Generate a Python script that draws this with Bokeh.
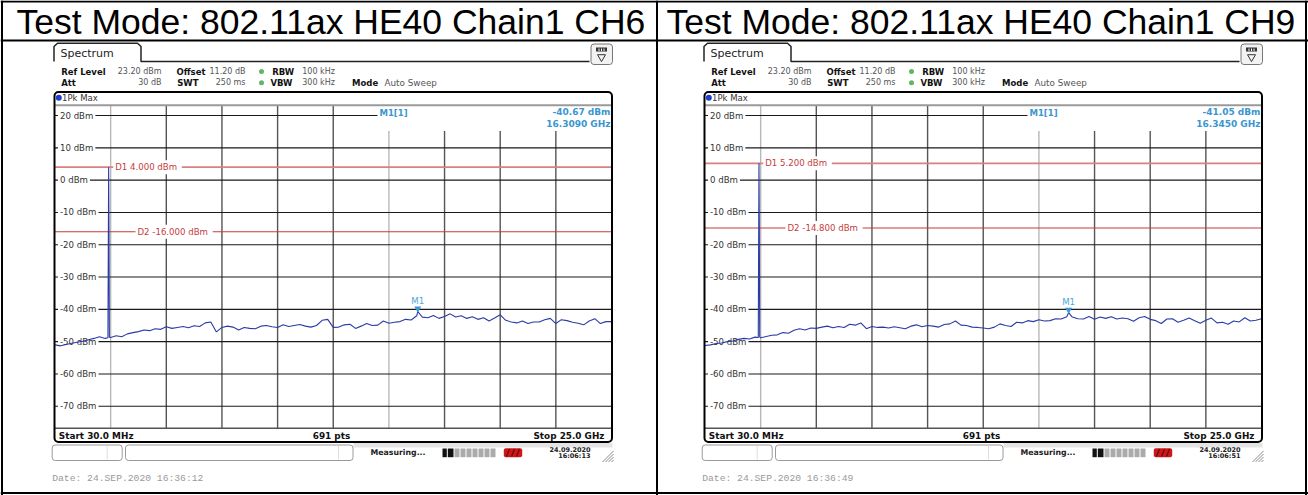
import numpy as np
from bokeh.plotting import figure
from bokeh.models import Range1d
from bokeh.core.properties import value
from bokeh.embed import file_html
from bokeh.resources import INLINE

# ------------------------------------------------------------------ data
titles = ["Test Mode: 802.11ax HE40 Chain1 CH6", "Test Mode: 802.11ax HE40 Chain1 CH9"]
start_ghz = 0.03
stop_ghz = 25.0
ref_level_dbm = 23.20
span_db = 100.0
level_ticks = [20, 10, 0, -10, -20, -30, -40, -50, -60, -70]
level_tick_labels = ["20 dBm", "10 dBm", "0 dBm", "-10 dBm", "-20 dBm", "-30 dBm",
                     "-40 dBm", "-50 dBm", "-60 dBm", "-70 dBm"]
freq_divisions = 10
row1_names = ["Ref Level", "Offset", "RBW"]
row1_values = ["23.20 dBm", "11.20 dB", "100 kHz"]
row2_names = ["Att", "SWT", "VBW", "Mode"]
row2_values = ["30 dB", "250 ms", "300 kHz", "Auto Sweep"]
tab_name = "Spectrum"
trace_name = "1Pk Max"
footer_labels = ["Start 30.0 MHz", "691 pts", "Stop 25.0 GHz"]
d1_dbm = [4.0, 5.2]
d1_labels = ["D1  4.000 dBm", "D1  5.200 dBm"]
d2_dbm = [-16.0, -14.8]
d2_labels = ["D2  -16.000 dBm", "D2  -14.800 dBm"]
m1_ghz = [16.3090, 16.3450]
m1_dbm = [-40.67, -41.05]
m1_level_text = ["-40.67 dBm", "-41.05 dBm"]
m1_freq_text = ["16.3090 GHz", "16.3450 GHz"]
carrier_ch6_ghz = [2.405, 2.437, 2.452, 2.470]
carrier_ch6_dbm = [-48.8, 4.0, -14.0, -48.6]
carrier_ch9_ghz = [2.420, 2.452, 2.467, 2.485]
carrier_ch9_dbm = [-48.7, 5.2, -13.0, -48.6]
noise_ch6 = [
    -51.0, -51.3, -50.9, -50.5, -50.2, -49.9, -49.4, -49.0, -48.5, -49.0,
    -48.7, -48.2, -48.5, -47.6, -47.2, -46.9, -46.4, -46.6, -46.0, -46.2,
    -45.4, -45.9, -45.6, -45.3, -45.7, -45.1, -45.3, -44.2, -43.9, -47.0,
    -45.6, -45.2, -45.5, -46.4, -45.6, -45.9, -46.0, -45.2, -45.0, -45.4,
    -45.6, -44.8, -45.3, -45.0, -44.7, -45.2, -45.5, -45.0, -43.4, -43.1,
    -45.6, -45.5, -44.8, -44.6, -45.9, -45.2, -44.4, -45.0, -44.9, -43.6,
    -44.3, -44.0, -43.8, -43.1, -43.3, -42.0, -42.4, -42.6, -41.9, -42.8,
    -42.2, -41.4, -42.4, -42.0, -42.8, -42.3, -43.1, -42.6, -43.6, -42.7,
    -41.7, -43.4, -43.9, -44.2, -43.6, -44.4, -43.9, -43.9, -43.2, -42.8,
    -44.4, -43.2, -43.5, -44.0, -44.3, -44.8, -43.6, -42.9, -44.4, -43.8,
    -43.8]
noise_ch9 = [
    -51.2, -51.0, -50.6, -50.4, -50.0, -49.8, -49.3, -49.0, -49.2, -48.6,
    -48.8, -48.4, -48.0, -47.9, -47.2, -47.4, -46.5, -46.0, -46.4, -45.8,
    -45.9, -45.5, -45.2, -45.7, -45.3, -45.6, -44.6, -44.9, -44.2, -46.0,
    -45.3, -45.6, -45.5, -45.8, -45.4, -45.7, -46.0, -45.2, -44.8, -45.4,
    -45.0, -45.2, -45.5, -44.7, -44.5, -43.6, -44.9, -45.0, -45.5, -45.6,
    -45.8, -46.0, -45.5, -44.5, -45.0, -45.3, -44.0, -44.2, -43.5, -43.8,
    -43.2, -43.6, -43.5, -42.9, -43.0, -42.3, -42.4, -42.9, -43.0, -42.2,
    -43.1, -42.4, -42.8, -42.3, -43.0, -42.7, -42.9, -43.7, -42.6, -42.2,
    -43.1, -43.5, -44.4, -43.0, -42.9, -44.0, -43.4, -42.7, -43.5, -44.3,
    -43.4, -42.7, -44.2, -44.0, -44.6, -43.6, -43.9, -42.6, -43.6, -43.4,
    -42.9]
status_text = "Measuring..."
status_date = "24.09.2020"
status_times = ["16:06:13", "16:06:51"]
print_stamps = ["Date: 24.SEP.2020  16:36:12", "Date: 24.SEP.2020  16:36:49"]

noise = [noise_ch6, noise_ch9]
carriers = [(carrier_ch6_ghz, carrier_ch6_dbm), (carrier_ch9_ghz, carrier_ch9_dbm)]

# ------------------------------------------------------------------ layout (px)
VX0, VX1, VY0, VY1 = 0, 1308, 0, 495
GX0, GX1 = 54.5, 611.0          # grid left/right of first panel
GY0, GY1 = 104.7, 427.7         # grid top/bottom
DX = 650.0                      # panel offset
UI = "DejaVu Sans"

p = figure(width=VX1 - VX0, height=VY1 - VY0,
           x_range=Range1d(VX0, VX1), y_range=Range1d(VY1, VY0),
           output_backend="svg", toolbar_location=None, min_border=0,
           x_axis_location=None, y_axis_location=None)
p.grid.visible = False
p.outline_line_color = None
p.background_fill_color = "white"
p.border_fill_color = "white"

ghz_per_px = (stop_ghz - start_ghz) / (GX1 - GX0)
db_per_px = span_db / (GY1 - GY0)
for k in range(2):
    ox = GX0 + k * DX
    p.extra_x_ranges[f"f{k}"] = Range1d(start_ghz + (VX0 - ox) * ghz_per_px,
                                        start_ghz + (VX1 - ox) * ghz_per_px)
p.extra_y_ranges["dbm"] = Range1d(ref_level_dbm - (VY1 - GY0) * db_per_px,
                                  ref_level_dbm - (VY0 - GY0) * db_per_px)


def txt(x, y, s, size, color="#222", bold=False, align="left", font=UI,
        xr="default", yr="default", bg=None, baseline="middle"):
    kw = {}
    if bg is not None:
        kw = dict(background_fill_color=bg, padding=2)
    p.text(x=[x], y=[y], text=[s], text_font=value(font),
           text_font_size=value(f"{size}px"),
           text_font_style="bold" if bold else "normal",
           text_color=color, text_align=align, text_baseline=baseline,
           x_range_name=xr, y_range_name=yr, **kw)


# ------------------------------------------------------------------ table
p.segment(x0=[0, 656.5, 1.5, 1305.5, 0, 0],
          y0=[40, 0, 0, 0, 1, 492.5],
          x1=[1308, 656.5, 1.5, 1305.5, 1308, 1308],
          y1=[40, 495, 495, 495, 1, 492.5],
          line_color="black", line_width=2)
for k in range(2):
    txt(16 + k * 650, 21, titles[k], 35.5, color="black", font="Liberation Sans")

# ------------------------------------------------------------------ panels
for k in range(2):
    o = k * DX
    fr = f"f{k}"

    # tab + header line + icon
    p.line([53.5 + o, 53.5 + o, 57 + o, 137 + o, 140.5 + o, 140.5 + o, 589 + o],
           [61, 46, 42.7, 42.7, 46, 61, 61], line_color="#222", line_width=1.5)
    txt(60 + o, 53.3, tab_name, 11, color="#222")
    p.quad(left=590.5 + o, right=612 + o, top=43.5, bottom=64, fill_color="#f2f2f2",
           line_color="#777", line_width=1, border_radius=3)
    p.quad(left=595.5 + o, right=606.5 + o, top=47, bottom=51, fill_color="#333",
           line_color=None)
    p.segment(x0=[598.5 + o, 601 + o, 603.5 + o], x1=[598.5 + o, 601 + o, 603.5 + o],
              y0=[48, 48, 48], y1=[50.5, 50.5, 50.5], line_color="white", line_width=1)
    p.scatter(x=[601 + o], y=[56.5], marker="inverted_triangle", size=8,
              fill_color=None, line_color="#333", line_width=1)

    # settings rows
    VS = 8.0
    txt(60.7 + o, 71, row1_names[0], 8.5, bold=True, color="#111")
    txt(161 + o, 71, row1_values[0], VS, color="#555", align="right")
    txt(176 + o, 71, row1_names[1], 8.5, bold=True, color="#111")
    txt(245 + o, 71, row1_values[1], VS, color="#555", align="right")
    txt(271.7 + o, 71, row1_names[2], 8.5, bold=True, color="#111")
    txt(301.7 + o, 71, row1_values[2], VS, color="#555")
    txt(60.7 + o, 82.3, row2_names[0], 8.5, bold=True, color="#111")
    txt(161 + o, 82.3, row2_values[0], VS, color="#555", align="right")
    txt(176.7 + o, 82.3, row2_names[1], 8.5, bold=True, color="#111")
    txt(245 + o, 82.3, row2_values[1], VS, color="#555", align="right")
    txt(270 + o, 82.3, row2_names[2], 8.5, bold=True, color="#111")
    txt(301.7 + o, 82.3, row2_values[2], VS, color="#555")
    txt(351.5 + o, 82.3, row2_names[3], 8.5, bold=True, color="#111")
    txt(384 + o, 82.3, row2_values[3], 8.8, color="#555")
    p.scatter(x=[261 + o, 261 + o], y=[71, 82.3], size=5, fill_color="#62b562",
              line_color=None)

    # vertical grid lines
    fstep = (stop_ghz - start_ghz) / freq_divisions
    vx = [start_ghz + j * fstep for j in range(1, freq_divisions)]
    vcol = ["#b8b8b8" if j in (1, 6) else "#555555" for j in range(1, freq_divisions)]
    p.segment(x0=vx, x1=vx, y0=[ref_level_dbm] * len(vx),
              y1=[ref_level_dbm - span_db] * len(vx), line_color=vcol, line_width=1.4,
              x_range_name=fr, y_range_name="dbm")
    # horizontal grid lines
    p.segment(x0=[start_ghz] * len(level_ticks), x1=[stop_ghz] * len(level_ticks),
              y0=level_ticks, y1=level_ticks, line_color="#1a1a1a", line_width=1.1,
              x_range_name=fr, y_range_name="dbm")
    # marker info box
    p.quad(left=377 + o, right=610.5 + o, top=105.5, bottom=130.5, fill_color="white",
           line_color=None)
    txt(379 + o, 112, "M1[1]", 8.5, bold=True, color="#3a96d0")
    txt(610 + o, 111.7, m1_level_text[k], 9, bold=True, color="#3a96d0", align="right")
    txt(610 + o, 123.7, m1_freq_text[k], 9, bold=True, color="#3a96d0", align="right")

    # display lines
    p.segment(x0=[start_ghz], x1=[stop_ghz], y0=[d1_dbm[k]], y1=[d1_dbm[k]],
              line_color="#d98080", line_width=1.8, x_range_name=fr, y_range_name="dbm")
    p.segment(x0=[start_ghz], x1=[stop_ghz], y0=[d2_dbm[k]], y1=[d2_dbm[k]],
              line_color="#c83a3a", line_width=1.1, x_range_name=fr, y_range_name="dbm")

    # level labels
    for lv, lab in zip(level_ticks, level_tick_labels):
        txt(57.5 + o, lv, lab, 8.6, color="#333", yr="dbm", bg="white")
    txt(112.7 + o, d1_dbm[k], d1_labels[k], 8.6, color="#c43c3c", yr="dbm", bg="white")
    txt(135 + o, d2_dbm[k], d2_labels[k], 8.6, color="#c43c3c", yr="dbm", bg="white")

    # trace
    nf = list(np.linspace(start_ghz, stop_ghz, len(noise[k])))
    pts = sorted(list(zip(nf, noise[k])) + list(zip(*carriers[k])) +
                 [(m1_ghz[k], m1_dbm[k])])
    p.line([a for a, _ in pts], [b for _, b in pts], line_color="#2b3ba6",
           line_width=1.1, x_range_name=fr, y_range_name="dbm")

    # marker
    p.scatter(x=[m1_ghz[k]], y=[m1_dbm[k] + 0.9], marker="inverted_triangle", size=7,
              fill_color="#3a9ad6", line_color=None, x_range_name=fr, y_range_name="dbm")
    txt(m1_ghz[k], m1_dbm[k] + 3.4, "M1", 8.6, color="#4aa6dc", align="center",
        xr=fr, yr="dbm")

    # diagram frame
    p.segment(x0=[54.5 + o], x1=[611 + o], y0=[104.7], y1=[104.7], line_color="#9a9a9a",
              line_width=2)
    p.segment(x0=[54.5 + o], x1=[611 + o], y0=[427.7], y1=[427.7], line_color="#555",
              line_width=1.4)
    p.quad(left=54 + o, right=611.5 + o, top=91.5, bottom=441.5, fill_color=None,
           line_color="black", line_width=2, border_radius=4)
    p.scatter(x=[58.3 + o], y=[97.3], size=6, fill_color="#1f3fd0", line_color=None)
    txt(61.5 + o, 97.5, trace_name, 8.5, color="#333")
    txt(58.3 + o, 435, footer_labels[0], 8.9, bold=True, color="#111")
    txt(331 + o, 435, footer_labels[1], 8.9, bold=True, color="#111", align="center")
    txt(604 + o, 435, footer_labels[2], 8.9, bold=True, color="#111", align="right")

    # status bar
    p.quad(left=353 + o, right=612 + o, top=442.5, bottom=447, fill_color="#e4e4e4",
           line_color=None)
    p.quad(left=[51.7 + o, 125 + o], right=[121.7 + o, 352.5 + o], top=[444.5, 444.5],
           bottom=[460, 460], fill_color=None, line_color="#9a9a9a", line_width=1,
           border_radius=3)
    p.segment(x0=[106.7 + o, 338 + o], x1=[106.7 + o, 338 + o], y0=[445.5, 445.5],
              y1=[459, 459], line_color="#dddddd", line_width=1)
    txt(370 + o, 451.7, status_text, 7.8, bold=True, color="#222")
    p.quad(left=[442 + o, 447.3 + o], right=[446.3 + o, 453 + o], top=[448, 448],
           bottom=[456.7, 456.7], fill_color="#111", line_color=None)
    gl = [454, 460, 466, 472, 478, 484, 490]
    p.quad(left=[g + o for g in gl], right=[g + 5 + o for g in gl], top=[448] * 7,
           bottom=[456.7] * 7, fill_color="#ababab", line_color=None)
    p.quad(left=503.3 + o, right=521.7 + o, top=447.7, bottom=456.7, fill_color="#cc1818",
           line_color=None, border_radius=2)
    p.segment(x0=[506 + o, 511 + o, 516 + o], x1=[509 + o, 514 + o, 519 + o],
              y0=[456, 456, 456], y1=[448.5, 448.5, 448.5], line_color="#6a0a0a",
              line_width=1.2)
    txt(590 + o, 449, status_date, 6.5, bold=True, color="#222", align="right")
    txt(590 + o, 455.7, status_times[k], 6.5, bold=True, color="#222", align="right")
    p.segment(x0=[602 + o, 605 + o, 608 + o, 611 + o], x1=[613 + o] * 4,
              y0=[461.5] * 4, y1=[450.5, 453.5, 456.5, 459.5], line_color="#8a8a8a",
              line_width=1)

    # print stamp
    txt(51.7 + o, 477.7, print_stamps[k], 9.7, color="#9a9a9a", font="Liberation Mono")

open("out.html", "w").write(file_html(p, INLINE))
